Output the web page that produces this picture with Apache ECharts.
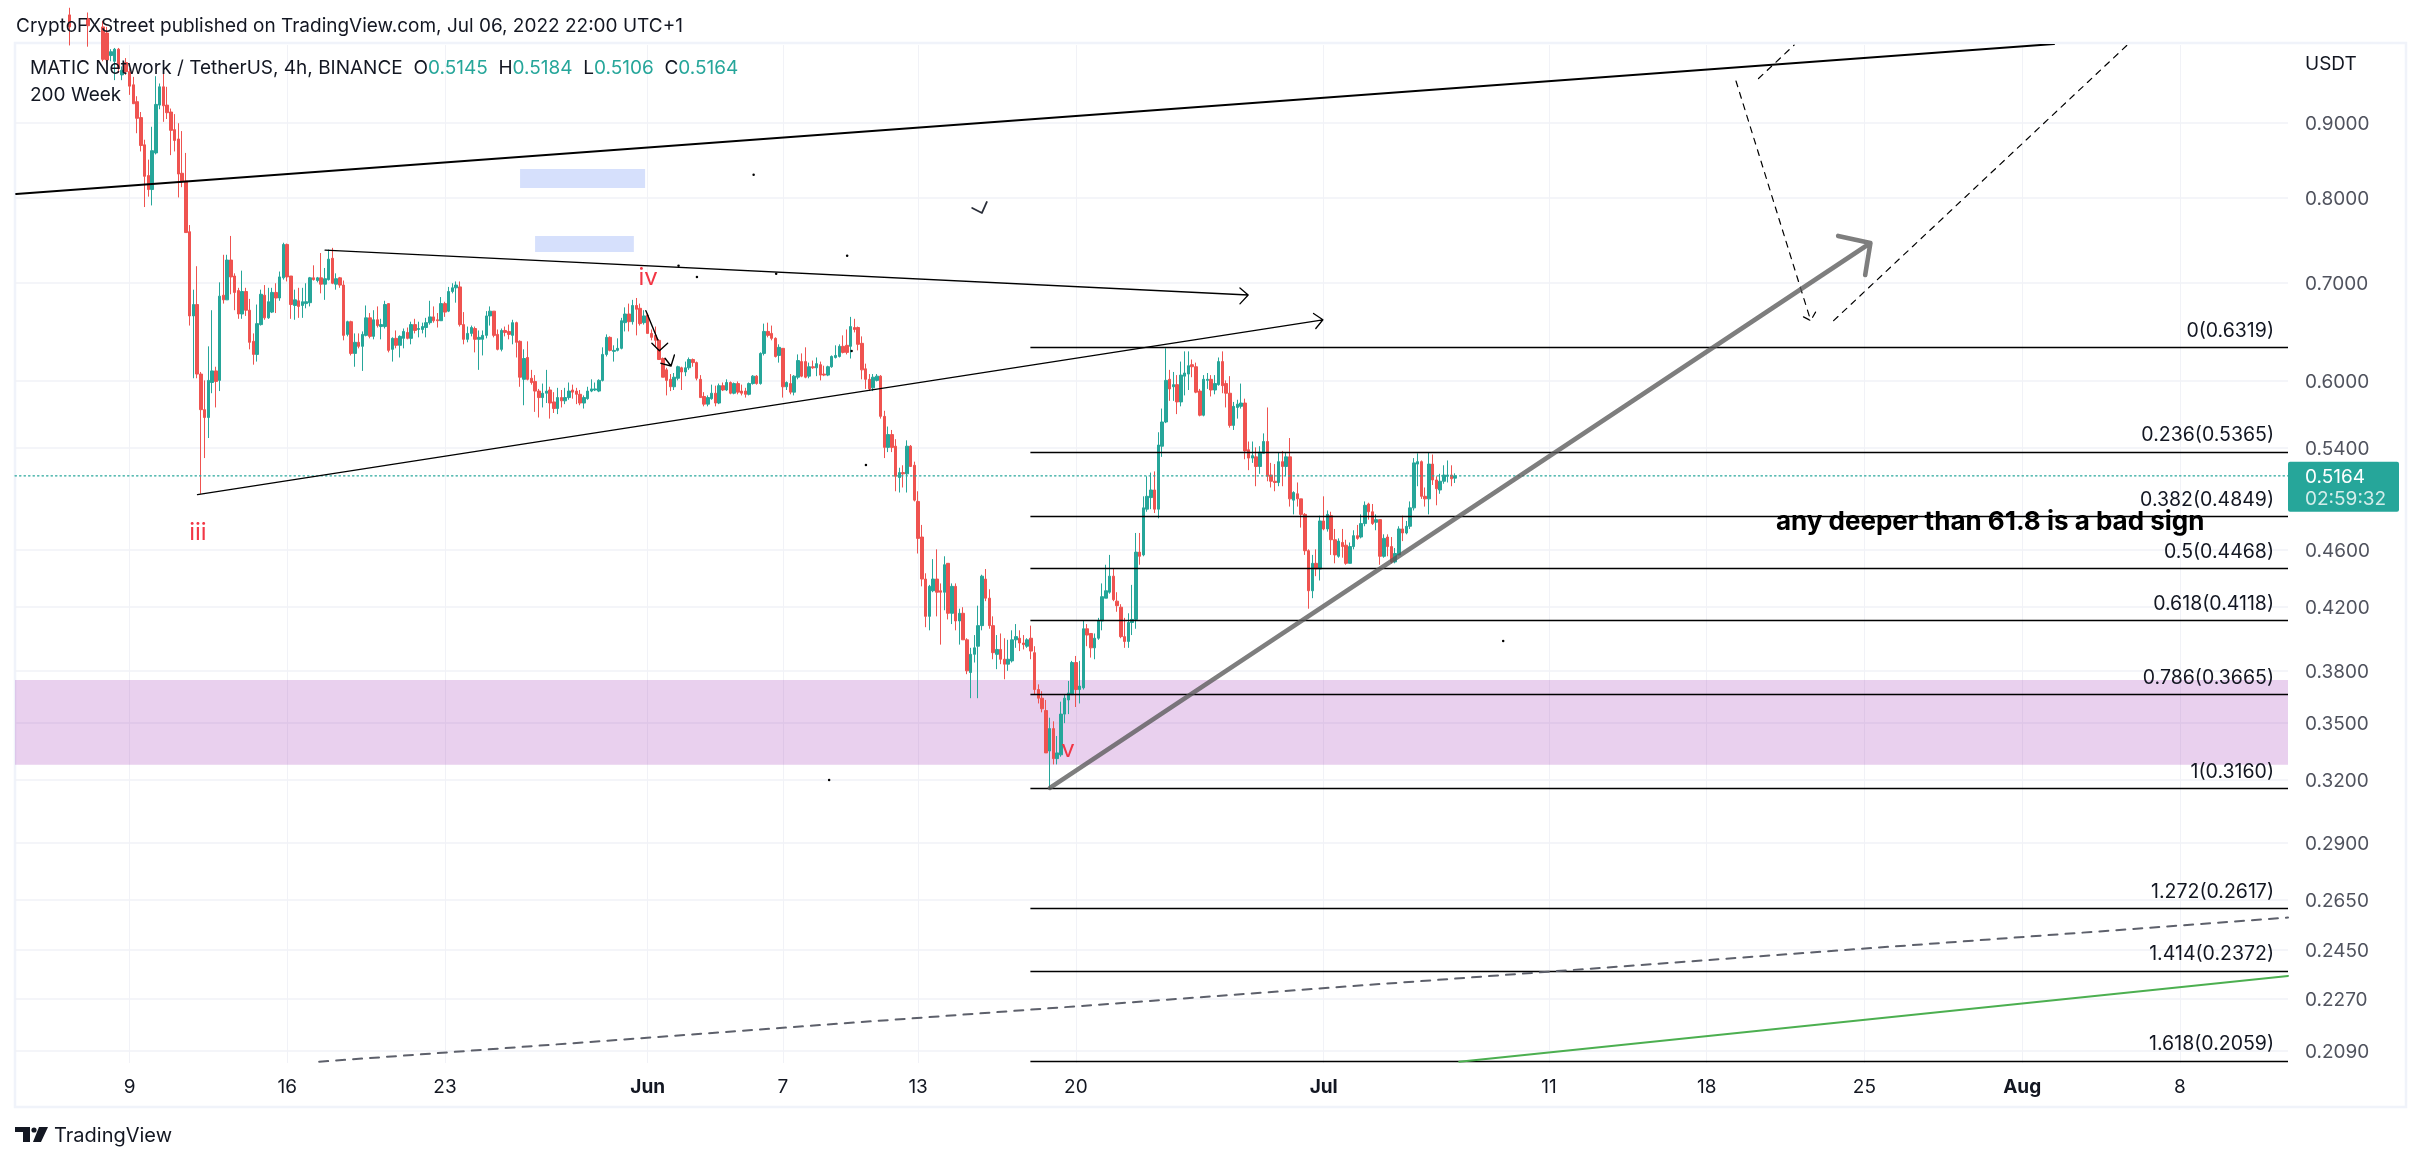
<!DOCTYPE html>
<html lang="en">
<head>
    <meta charset="UTF-8">
    <script src="https://cdn.jsdelivr.net/npm/echarts@6/dist/echarts.min.js"></script>
    <style>html, body { margin: 0; background: #fff; }</style>
</head>
<body>
<div id="main" style="width: 2422px;height: 1163px"></div>
<script>
    // x is the 4h bar number counted from May 4 00:00, y is the price
    var firstBar = 14;
    var xMax = 604.8;

    // one row per bar: open, close, low, high (null = above the visible range)
    var mayBars = [
        [1.066,1.046,1.016,1.078],null,null,null,null,[1.06,1.048,1.014,1.07],null,null,null,
        [1.046,.994,.991,1.056],[1.036,.993,.986,1.046],[1.0,1.006,.991,1.01],[.991,1.01,.962,1.012],[1.01,.98,.973,1.012],
        [.97,.977,.962,.983],[.989,.975,.97,.996],[.975,.953,.94,.98],[.955,.927,.927,.967],[.93,.906,.885,.938],
        [.907,.868,.86,.915],[.869,.827,.788,.876],[.828,.81,.801,.849],[.81,.861,.79,.894],[.858,.926,.856,.968],
        [.925,.952,.919,.957],[.952,.924,.901,.99],[.925,.914,.905,.952],[.915,.889,.855,.92],[.89,.875,.86,.912],
        [.877,.83,.8,.899],[.831,.82,.813,.888],[.821,.757,.757,.858],[.758,.664,.654,.766],[.664,.676,.602,.692],
        [.676,.606,.602,.718],[.606,.573,.502,.608],[.573,.566,.531,.6],[.566,.6,.548,.633],[.598,.609,.588,.67],
        [.609,.599,.575,.613],[.6,.685,.59,.7],[.686,.681,.677,.731],[.681,.725,.681,.731],[.725,.706,.687,.753],
        [.707,.689,.67,.71],[.691,.666,.661,.694],[.666,.69,.661,.713],[.69,.67,.664,.694],[.67,.637,.63,.682],
        [.638,.625,.615,.646],[.625,.656,.618,.676],[.655,.687,.654,.692],[.686,.662,.66,.697],[.662,.679,.661,.694],
        [.668,.689,.667,.694],[.689,.683,.667,.699],[.683,.706,.68,.712],[.705,.743,.703,.745],[.743,.706,.701,.744],
        [.707,.676,.661,.707],[.675,.681,.66,.692],[.68,.674,.662,.694],[.675,.679,.662,.694],[.677,.679,.672,.699],
        [.678,.705,.674,.706],[.705,.703,.702,.719],[.702,.705,.7,.706],[.705,.698,.688,.733],[.698,.704,.681,.716],
        [.703,.726,.702,.737],[.727,.699,.698,.739],[.698,.704,.692,.71],[.705,.697,.694,.706],[.697,.644,.639,.702],
        [.645,.658,.643,.659],[.658,.626,.624,.659],[.626,.637,.613,.646],[.637,.633,.631,.646],[.633,.645,.609,.648],
        [.644,.662,.643,.675],[.662,.643,.641,.667],[.643,.66,.64,.67],[.66,.654,.652,.674],[.653,.655,.64,.661],
        [.653,.676,.651,.68],[.677,.629,.627,.677],[.63,.641,.618,.642],[.641,.634,.631,.649],[.634,.643,.622,.644],
        [.641,.648,.631,.651],[.647,.641,.64,.652],[.641,.655,.635,.658],[.655,.649,.646,.661],[.65,.651,.642,.658],
        [.65,.653,.646,.657],[.652,.657,.642,.662],[.657,.663,.655,.68],[.663,.659,.657,.674],[.66,.659,.652,.667],
        [.659,.677,.659,.684],[.677,.668,.663,.679],[.669,.69,.668,.695],[.69,.694,.688,.699],[.694,.697,.678,.701],
        [.695,.655,.653,.701],[.655,.64,.635,.668],[.64,.646,.637,.653],[.646,.652,.643,.654],[.651,.64,.627,.653],
        [.64,.642,.61,.649],[.64,.644,.624,.649],[.644,.664,.641,.669],[.664,.669,.654,.674],[.669,.644,.642,.669],
        [.645,.63,.629,.65],[.63,.649,.628,.651],[.649,.647,.643,.653],[.648,.645,.64,.655],[.644,.657,.635,.66],
        [.657,.637,.622,.658],[.638,.603,.594,.639],[.601,.621,.577,.63],[.622,.601,.6,.638],[.602,.598,.596,.61],
        [.599,.59,.571,.605],[.59,.584,.566,.592],[.584,.588,.575,.597],[.588,.59,.579,.61],[.591,.579,.565,.594],
        [.58,.574,.57,.589],[.574,.584,.569,.593],[.584,.581,.575,.591],[.581,.584,.578,.593],[.584,.59,.582,.598],
        [.591,.589,.583,.596],[.59,.587,.578,.593],[.587,.579,.577,.591],[.579,.584,.574,.586],[.583,.59,.582,.594],
        [.59,.592,.589,.601],[.591,.592,.59,.598],[.59,.6,.589,.601],[.6,.625,.599,.632],[.625,.642,.623,.645],
        [.642,.629,.628,.643],[.628,.629,.618,.634],[.629,.631,.628,.641],[.631,.659,.63,.662],[.657,.666,.648,.673],
        [.666,.658,.648,.677],[.658,.675,.655,.681],[.675,.671,.644,.683],[.672,.656,.654,.677],[.657,.664,.655,.67]
    ];
    var juneBars = [
        [.665,.646,.646,.667],[.646,.642,.639,.65],[.644,.639,.633,.653],[.639,.62,.62,.64],[.621,.603,.603,.622],
        [.61,.6,.586,.612],[.601,.594,.59,.606],[.594,.603,.591,.607],[.602,.613,.6,.614],[.612,.608,.591,.613],
        [.608,.612,.604,.618],[.612,.62,.61,.622],[.62,.617,.613,.621],[.617,.602,.6,.618],[.601,.584,.584,.605],
        [.585,.578,.576,.589],[.578,.584,.576,.586],[.583,.588,.582,.596],[.588,.579,.576,.595],[.579,.595,.578,.597],
        [.595,.591,.59,.598],[.591,.598,.59,.601],[.598,.588,.587,.599],[.588,.597,.587,.598],[.597,.589,.587,.599],
        [.59,.588,.586,.596],[.59,.587,.584,.593],[.587,.597,.586,.598],[.597,.604,.596,.605],[.604,.597,.596,.605],
        [.597,.626,.596,.627],[.626,.648,.624,.656],[.648,.644,.642,.657],[.646,.641,.639,.654],[.641,.623,.622,.642],
        [.624,.632,.617,.635],[.631,.594,.584,.631],[.594,.598,.591,.599],[.597,.589,.587,.606],[.589,.604,.586,.605],
        [.603,.619,.601,.625],[.618,.604,.603,.626],[.618,.603,.602,.632],[.604,.613,.602,.617],[.613,.612,.611,.619],
        [.612,.616,.604,.622],[.615,.605,.6,.618],[.606,.605,.604,.614],[.605,.613,.604,.614],[.613,.623,.612,.624],
        [.622,.624,.621,.634],[.623,.633,.622,.635],[.633,.627,.626,.644],[.634,.627,.625,.65],[.633,.653,.621,.663],
        [.652,.65,.647,.661],[.652,.635,.629,.653],[.636,.61,.601,.643],[.611,.601,.592,.616],[.601,.592,.59,.606],
        [.593,.603,.59,.606],[.6,.604,.599,.606],[.604,.567,.565,.605],[.567,.54,.531,.572],[.54,.551,.536,.558],
        [.551,.54,.536,.555],[.541,.516,.504,.547],[.515,.519,.503,.523],[.519,.518,.507,.525],[.518,.541,.503,.546],
        [.541,.524,.524,.542],[.525,.497,.496,.528],[.496,.468,.457,.504],[.469,.439,.434,.478],[.439,.414,.407,.443],
        [.414,.434,.405,.435],[.431,.439,.43,.453],[.439,.43,.414,.46],[.431,.43,.396,.436],[.43,.449,.418,.455],
        [.45,.416,.412,.45],[.416,.434,.409,.436],[.434,.411,.405,.436],[.411,.416,.396,.419],[.416,.399,.399,.42],
        [.399,.38,.378,.4],[.379,.39,.364,.394],[.39,.394,.385,.402],[.395,.408,.364,.421],[.408,.441,.405,.442],
        [.439,.426,.424,.446],[.426,.408,.406,.432],[.408,.391,.387,.414],[.39,.393,.381,.402],[.393,.387,.384,.403],
        [.387,.384,.375,.4],[.384,.387,.38,.399],[.386,.399,.385,.405],[.399,.401,.394,.409],[.4,.397,.392,.405],
        [.397,.396,.393,.402],[.395,.399,.394,.4],[.4,.392,.387,.408],[.391,.369,.366,.395],[.369,.364,.361,.372],
        [.364,.358,.356,.368],[.357,.334,.334,.363],[.335,.347,.316,.353],[.347,.331,.328,.351],[.331,.334,.328,.343],
        [.333,.355,.332,.362],[.355,.364,.35,.366],[.363,.367,.355,.374],[.366,.385,.366,.386],[.385,.369,.359,.389],
        [.369,.371,.361,.386],[.37,.406,.369,.411],[.406,.402,.395,.409],[.403,.394,.388,.403],[.394,.4,.387,.403],
        [.4,.411,.399,.413],[.411,.427,.405,.436],[.426,.431,.426,.449],[.43,.441,.429,.456],[.441,.425,.424,.446],
        [.424,.421,.417,.43],[.42,.401,.4,.422],[.401,.398,.394,.413],[.398,.41,.394,.416],[.41,.412,.402,.435],
        [.412,.458,.406,.472],[.458,.455,.449,.472],[.456,.491,.455,.5],[.49,.5,.488,.516],[.499,.505,.49,.519],
        [.505,.49,.487,.52],[.49,.542,.483,.553],[.541,.562,.532,.574],[.562,.6,.561,.631],[.601,.592,.581,.61],
        [.594,.596,.581,.608],[.596,.58,.569,.605],[.58,.605,.576,.618],[.604,.607,.586,.628],[.606,.614,.591,.628],
        [.615,.613,.603,.62],[.613,.589,.588,.617],[.59,.568,.567,.592],[.568,.601,.567,.605],[.6,.601,.592,.607],
        [.601,.591,.585,.605],[.591,.597,.587,.605],[.596,.618,.595,.622],[.618,.595,.588,.628],[.597,.588,.575,.6],
        [.588,.559,.557,.604],[.559,.576,.555,.58],[.575,.578,.565,.582],[.576,.579,.574,.597],[.579,.537,.53,.583],
        [.538,.531,.521,.545],[.531,.533,.527,.545],[.532,.524,.508,.54],[.524,.536,.518,.541],[.535,.545,.535,.552],
        [.545,.516,.512,.575],[.517,.512,.507,.527],[.512,.511,.504,.526],[.511,.528,.508,.536],[.528,.524,.508,.537],
        [.524,.532,.516,.536],[.532,.498,.492,.548],[.497,.503,.486,.504],[.502,.498,.492,.511],[.498,.486,.476,.498],
        [.486,.459,.456,.487],[.459,.431,.419,.46],[.431,.45,.426,.456],[.45,.446,.441,.46],[.446,.481,.438,.485]
    ];
    var julyBars = [
        [.481,.475,.474,.5],[.475,.486,.473,.489],[.485,.467,.456,.488],[.467,.456,.45,.475],[.455,.466,.454,.468],
        [.465,.462,.454,.475],[.463,.45,.449,.467],[.45,.462,.45,.465],[.462,.47,.46,.474],[.47,.468,.467,.478],
        [.469,.479,.468,.486],[.479,.493,.477,.496],[.494,.488,.482,.495],[.488,.479,.478,.494],[.48,.482,.474,.486],
        [.482,.455,.449,.482],[.455,.468,.454,.471],[.469,.462,.455,.471],[.462,.451,.45,.469],[.451,.457,.45,.461],
        [.456,.475,.456,.477],[.475,.472,.466,.485],[.472,.477,.471,.481],[.477,.491,.475,.496],[.491,.527,.489,.531],
        [.526,.528,.508,.535],[.528,.5,.498,.529],[.5,.498,.492,.507],[.498,.526,.486,.536],[.526,.513,.509,.534],
        [.513,.506,.493,.516],[.505,.512,.502,.518],[.512,.517,.51,.525],[.516,.517,.511,.529],[.517,.514,.508,.525],
        [.5145,.5164,.5106,.5184]
    ];

    var priceTicks = [0.9, 0.8, 0.7, 0.6, 0.54, 0.46, 0.42, 0.38, 0.35, 0.32, 0.29, 0.265, 0.245, 0.227, 0.209];
    var dayTicks = [30, 72, 114, 168, 204, 240, 282, 348, 408, 450, 492, 534, 576];
    var dayLabels = ['9', '16', '23', 'Jun', '7', '13', '20', 'Jul', '11', '18', '25', 'Aug', '8'];

    var lastPrice = 0.5164;
    var fibRatios = ['0', '0.236', '0.382', '0.5', '0.618', '0.786', '1', '1.272', '1.414', '1.618'];
    var fibPrices = [0.6319, 0.5365, 0.4849, 0.4468, 0.4118, 0.3665, 0.3160, 0.2617, 0.2372, 0.2059];
    var fibStart = 269.9;

    // [x from, x to, price top, price bottom]
    var purpleZone = [[-0.5, xMax, 0.3746, 0.3278]];
    var blueZones = [[134, 167.3, 0.8365, 0.8120], [138, 164.3, 0.7530, 0.7342]];

    // hand drawn trend lines, [bar, price] per vertex
    var channelTop = [[-0.2, 0.8043], [542.5, 1.0183]];
    var wedgeUpper = [[82.06, 0.7365], [327.9, 0.6862], [325.7, 0.6939], [327.9, 0.6862], [325.7, 0.6767]];
    var wedgeLower = [[48.1, 0.5013], [347.8, 0.6600], [345.3, 0.6666], [347.8, 0.6600], [345.9, 0.6510]];
    var greyArrow = [[275.1, 0.3161], [493.6, 0.7447], [485, 0.7530], [493.6, 0.7447], [492.2, 0.7081]];
    var dashDown = [[457.8, 0.9607], [477.7, 0.6591], [475.2, 0.6642], [477.7, 0.6591], [479.3, 0.6702]];
    var dashUp = [[483.8, 0.6591], [562, 1.0167]];
    var dashShort = [[463.8, 0.9645], [473.3, 1.0167]];
    var dashLong = [[80.5, 0.2055], [604.8, 0.2578]];
    var greenLine = [[384.1, 0.2055], [604.8, 0.2352]];
    var miniArrow1 = [[167.5, 0.6695], [170.7, 0.6393]];
    var miniArrow2 = [[169.1, 0.6360], [171.1, 0.6287], [173.3, 0.6360]];
    var miniArrow3 = [[171.5, 0.6163], [174.2, 0.6137], [175.1, 0.6244], [174.2, 0.6137], [172.6, 0.6212]];
    var miniCheck = [[254.4, 0.7868], [257, 0.7807], [258.3, 0.7943]];
    var strayDots = [[196.2, 0.8292], [176.2, 0.7185], [181.1, 0.7059], [202.2, 0.7096], [221.1, 0.7299],
        [226.1, 0.5252], [216.3, 0.3201], [395.8, 0.3982], [222.3, 0.6284]];

    var waveLabels = [[48.2, 0.4725, 'iii'], [168.1, 0.7048, 'iv'], [279.9, 0.3358, 'v']];
    var noteLabel = [[525.5, 0.4799, 'any deeper than 61.8 is a bad sign']];

    var FONT = 'Inter, "Noto Sans", sans-serif';
    var UP = '#26a69a', DOWN = '#ef5350', GRID = '#f1f2f7';

    var candles = [];
    mayBars.concat(juneBars, julyBars).forEach(function (row, k) {
        if (row) candles.push([firstBar + k, row[0], row[1], row[2], row[3]]);
    });

    function drawing(points, color, width, type, z) {
        return {
            type: 'line', data: points, symbol: 'none', silent: true, z: z || 5,
            lineStyle: {color: color, width: width, type: type || 'solid', cap: 'round', join: 'round'}
        };
    }

    function zones(list, color, z) {
        return {
            type: 'custom', data: list.map(function (r, k) { return [r[0], r[2], k]; }), z: z, silent: true,
            renderItem: function (params, api) {
                var r = list[params.dataIndex];
                var a = api.coord([r[0], r[2]]), b = api.coord([r[1], r[3]]);
                return {type: 'rect', shape: {x: a[0], y: a[1], width: b[0] - a[0], height: b[1] - a[1]}, style: {fill: color}};
            }
        };
    }

    function textMarks(list, color, size, weight) {
        return {
            type: 'scatter', data: list, symbolSize: 1, itemStyle: {color: 'transparent', opacity: 1}, z: 7, silent: true,
            label: {
                show: true, position: 'inside', color: color, fontSize: size, fontWeight: weight,
                fontFamily: FONT,
                formatter: function (p) { return p.value[2]; }
            }
        };
    }

    var option = {
        animation: false,
        textStyle: {fontFamily: FONT},
        grid: {left: 15, right: 134, top: 45, bottom: 100, containLabel: false},
        xAxis: {
            type: 'value', min: -0.5, max: xMax,
            axisLine: {show: false},
            axisTick: {show: false, customValues: dayTicks},
            splitLine: {show: true, lineStyle: {color: GRID, width: 1}},
            axisLabel: {
                customValues: dayTicks, margin: 15, color: '#131722', fontSize: 19, fontFamily: FONT,
                formatter: function (v) {
                    var s = dayLabels[dayTicks.indexOf(v)];
                    return /[a-z]/.test(s) ? '{b|' + s + '}' : s;
                },
                rich: {b: {fontWeight: 'bold', fontSize: 19, color: '#131722', fontFamily: FONT}}
            }
        },
        yAxis: {
            type: 'log', position: 'right', min: 0.2051, max: 1.0167,
            axisLine: {show: false},
            axisTick: {show: false, customValues: priceTicks},
            splitLine: {show: true, lineStyle: {color: GRID, width: 1.5}},
            axisLabel: {
                customValues: priceTicks, margin: 17, color: '#50535e', fontSize: 19, fontFamily: FONT,
                formatter: function (v) { return '{p|' + Number(v).toFixed(4) + '}'; },
                rich: {p: {color: '#50535e', fontSize: 19, fontFamily: FONT, padding: [3, 0, 0, 0]}}
            }
        },
        series: [
            zones(purpleZone, 'rgba(156,39,176,0.22)', 1),
            zones(blueZones, '#d6e0fc', 1),
            {
                type: 'candlestick', data: candles, barWidth: 3, z: 3, silent: true,
                itemStyle: {color: UP, color0: DOWN, borderColor: UP, borderColor0: DOWN, borderWidth: 1}
            },
            drawing([[-0.5, lastPrice], [xMax, lastPrice]], UP, 1.2, [1.5, 3], 4),
            {
                // fib retracement levels with their captions
                type: 'custom', z: 5, silent: true,
                data: fibPrices.map(function (p, k) { return [fibStart, p, k]; }),
                renderItem: function (params, api) {
                    var k = params.dataIndex;
                    var a = api.coord([fibStart, fibPrices[k]]), b = api.coord([xMax, fibPrices[k]]);
                    var y = Math.round(a[1]) + 0.5;
                    return {
                        type: 'group',
                        children: [
                            {type: 'line', shape: {x1: a[0], y1: y, x2: b[0], y2: y}, style: {stroke: '#000', lineWidth: 1.5}},
                            {type: 'text', style: {
                                text: fibRatios[k] + '(' + fibPrices[k].toFixed(4) + ')',
                                x: b[0] - 14, y: b[1] - 16, align: 'right', verticalAlign: 'middle',
                                fill: '#131722', font: '19.5px ' + FONT
                            }}
                        ]
                    };
                }
            },
            drawing(channelTop, '#000', 2),
            drawing(wedgeUpper, '#000', 1.3),
            drawing(wedgeLower, '#000', 1.3),
            drawing(miniArrow1, '#000', 1.4),
            drawing(miniArrow2, '#000', 1.4),
            drawing(miniArrow3, '#000', 1.4),
            drawing(miniCheck, '#2a2e39', 1.8),
            drawing(greyArrow, 'rgba(90,90,90,0.78)', 4.6, 'solid', 6),
            drawing(dashDown, '#000', 1.2, [6, 6]),
            drawing(dashUp, '#000', 1.2, [6, 6]),
            drawing(dashShort, '#000', 1.2, [6, 6]),
            drawing(dashLong, '#5d606b', 2, [9, 8]),
            drawing(greenLine, '#4caf50', 2),
            {type: 'scatter', data: strayDots, symbolSize: 2.5, itemStyle: {color: '#000', opacity: 1}, z: 6, silent: true},
            textMarks(waveLabels, '#f23645', 24, 'normal'),
            textMarks(noteLabel, '#000', 26, 'bold'),
            {
                // last price tag on the price scale
                type: 'custom', z: 8, silent: true, data: [[xMax, lastPrice]],
                renderItem: function (params, api) {
                    var p = api.coord([xMax, lastPrice]);
                    return {
                        type: 'group',
                        children: [
                            {type: 'rect', shape: {x: p[0], y: p[1] - 14, width: 111, height: 50, r: 2}, style: {fill: UP}},
                            {type: 'text', style: {text: lastPrice.toFixed(4), x: p[0] + 17, y: p[1] + 1, verticalAlign: 'middle', fill: '#fff', font: '19px ' + FONT}},
                            {type: 'text', style: {text: '02:59:32', x: p[0] + 17, y: p[1] + 23, verticalAlign: 'middle', fill: 'rgba(255,255,255,0.8)', font: '19px ' + FONT}}
                        ]
                    };
                }
            }
        ],
        graphic: [
            {type: 'rect', silent: true, z: 0, shape: {x: 15, y: 43, width: 2391, height: 1064}, style: {fill: 'none', stroke: '#f0f3fa', lineWidth: 2.5}},
            {type: 'text', silent: true, z: 20, style: {text: 'CryptoFXStreet published on TradingView.com, Jul 06, 2022 22:00 UTC+1', x: 16, y: 26, verticalAlign: 'middle', fill: '#131722', font: '19px ' + FONT}},
            {type: 'text', silent: true, z: 20, style: {
                text: 'MATIC Network / TetherUS, 4h, BINANCE  O{g|0.5145}  H{g|0.5184}  L{g|0.5106}  C{g|0.5164}',
                x: 30, y: 68, verticalAlign: 'middle', fill: '#131722', font: '19px ' + FONT,
                rich: {g: {fill: UP, font: '19px ' + FONT}}
            }},
            {type: 'text', silent: true, z: 20, style: {text: '200 Week', x: 30, y: 95, verticalAlign: 'middle', fill: '#131722', font: '19px ' + FONT}},
            {type: 'text', silent: true, z: 20, style: {text: 'USDT', x: 2305, y: 64, verticalAlign: 'middle', fill: '#131722', font: '19px ' + FONT}},
            // TradingView logo
            {type: 'rect', silent: true, shape: {x: 15, y: 1127, width: 15, height: 5}, style: {fill: '#131722'}},
            {type: 'rect', silent: true, shape: {x: 23, y: 1132, width: 7, height: 10}, style: {fill: '#131722'}},
            {type: 'circle', silent: true, shape: {cx: 34, cy: 1130, r: 2.6}, style: {fill: '#131722'}},
            {type: 'polygon', silent: true, shape: {points: [[39, 1127], [48, 1127], [41, 1142], [33, 1142]]}, style: {fill: '#131722'}},
            {type: 'text', silent: true, style: {text: 'TradingView', x: 54, y: 1136, verticalAlign: 'middle', fill: '#131722', font: '20px ' + FONT}}
        ]
    };

    var chart = echarts.init(document.getElementById('main'));
    chart.setOption(option);
</script>
</body>
</html>
